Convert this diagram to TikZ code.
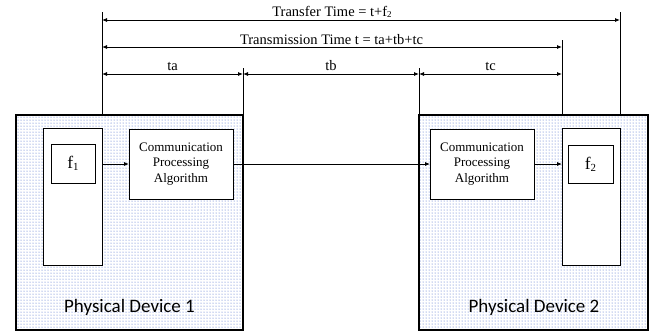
\documentclass[tikz,border=0pt]{standalone}
\usepackage{fontspec}
\setmainfont{Liberation Serif}
\newfontfamily\labelfont{Carlito}
\usetikzlibrary{arrows.meta,patterns}
\definecolor{dotblue}{RGB}{60,95,200}
\newcommand{\lowsub}[1]{\raisebox{-0.12em}{\fontsize{0.62em}{0.7em}\selectfont #1}}
\begin{document}
\begin{tikzpicture}[x=1pt,y=-1pt,
  box/.style={draw=black,line width=0.8pt,fill=white,anchor=north west,
    inner sep=0pt,outer sep=0pt},
  device/.style={draw=black,line width=1.3pt,anchor=north west,inner sep=0pt,outer sep=0pt,
    pattern=dots,pattern color=dotblue},
  cpa/.style={box,align=center,font=\fontsize{13}{15.5}\selectfont,
    minimum width=104pt,minimum height=70pt},
  arr/.style={line width=0.8pt,-{Latex[length=5pt,width=4pt]}},
  dim/.style={line width=0.8pt,{Latex[length=5pt,width=4pt]}-{Latex[length=5pt,width=4pt]}},
  ext/.style={line width=0.8pt},
  dimtext/.style={font=\fontsize{14.5}{16}\selectfont,inner sep=0pt}]
\useasboundingbox (0,0) rectangle (656,333);

% the two devices
\node[device,minimum width=227pt,minimum height=215pt] (dev1) at (16,115) {};
\node[device,minimum width=229pt,minimum height=215pt] (dev2) at (419,115) {};
\node[font=\labelfont\fontsize{19}{21}\selectfont] (lab1) at (129.5,307) {Physical Device 1};
\node[font=\labelfont\fontsize{19}{21}\selectfont] (lab2) at (534,307) {Physical Device 2};

% inner blocks of device 1
\node[box,minimum width=59pt,minimum height=137pt] (tall1) at (43,128) {};
\node[box,minimum width=44pt,minimum height=39pt] (f1) at (51,144) {};
\node at (f1.center) (f1t) {\fontsize{17.5}{18}\selectfont f\lowsub{1}};
\node[cpa] (cpa1) at (129,129) {Communication\\Processing\\Algorithm};

% inner blocks of device 2
\node[cpa] (cpa2) at (430,129) {Communication\\Processing\\Algorithm};
\node[box,minimum width=58pt,minimum height=137pt] (tall2) at (562,128) {};
\node[box,minimum width=45pt,minimum height=38pt] (f2) at (568,145) {};
\node at (f2.center) (f2t) {\fontsize{17.5}{18}\selectfont f\lowsub{2}};

% data path
\draw[arr] (tall1.east |- cpa1.west) -- (cpa1.west);
\draw[arr] (cpa1.east) -- (cpa2.west);
\draw[arr] (cpa2.east) -- (tall2.west |- cpa2.east);

% extension lines
\coordinate (xa) at (102,12);
\coordinate (xb) at (243,68);
\coordinate (xc) at (419,68);
\coordinate (xd) at (562,40);
\coordinate (xe) at (620,12);
\draw[ext] (xa) -- (xa |- dev1.north);
\draw[ext] (xb) -- (xb |- dev1.north);
\draw[ext] (xc) -- (xc |- dev2.north);
\draw[ext] (xd) -- (xd |- dev2.north);
\draw[ext] (xe) -- (xe |- dev2.north);

% dimension arrows
\coordinate (ya) at (0,20);
\coordinate (yb) at (0,47);
\coordinate (yc) at (0,74);
\draw[dim] (xa |- ya) -- (xe |- ya);
\draw[dim] (xa |- yb) -- (xd |- yb);
\draw[dim] (xa |- yc) -- (xb |- yc);
\draw[dim] (xb |- yc) -- (xc |- yc);
\draw[dim] (xc |- yc) -- (xd |- yc);

\node[dimtext] (tt) at (332,12) {Transfer Time = t+f\lowsub{2}};
\node[dimtext] (tm) at (331.5,39.5) {Transmission Time t = ta+tb+tc};
\node[dimtext] (ta) at (172.5,66) {ta};
\node[dimtext] (tb) at (331,66) {tb};
\node[dimtext] (tc) at (490.5,66) {tc};
\end{tikzpicture}
\end{document}
